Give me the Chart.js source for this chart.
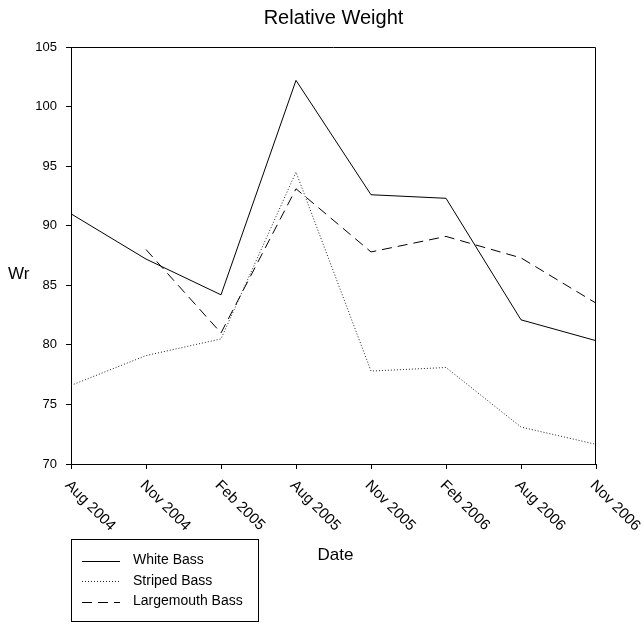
<!DOCTYPE html>
<html>
<head>
<meta charset="utf-8">
<script src="https://cdn.jsdelivr.net/npm/chart.js@4/dist/chart.umd.min.js"></script>
<style>
    html, body { margin:0; padding:0; background:#fff; }
    #chart { display:block; }
</style>
</head>
<body>
<canvas id="chart" width="643" height="624"></canvas>
<script>
// ── DATA ──
const dates = ['Aug 2004','Nov 2004','Feb 2005','Aug 2005','Nov 2005','Feb 2006','Aug 2006','Nov 2006'];
const whiteBass      = [91.0, 87.2, 84.2, 102.2, 92.6, 92.3, 82.1, 80.35];
const stripedBass    = [76.6, 79.1, 80.5, 94.5, 77.8, 78.1, 73.1, 71.65];
const largemouthBass = [null, 88.0, 81.0, 93.1, 87.8, 89.1, 87.3, 83.5];
const yMin = 70, yMax = 105, yStep = 5;

const FONT = 'Arial, "Liberation Sans", sans-serif';

// title, axis titles, slanted date labels, frame and legend box
const decorations = {
    id: 'decorations',
    afterDraw(chart) {
        const ctx = chart.ctx;
        const area = chart.chartArea;
        const xs = chart.scales.x;
        ctx.save();

        // top + right edges of the frame
        ctx.strokeStyle = '#000';
        ctx.lineWidth = 1;
        ctx.beginPath();
        ctx.moveTo(Math.round(area.left) + 0.5, Math.round(area.top) + 0.5);
        ctx.lineTo(Math.round(area.right) - 0.5, Math.round(area.top) + 0.5);
        ctx.lineTo(Math.round(area.right) - 0.5, Math.round(area.bottom));
        ctx.stroke();

        ctx.fillStyle = '#000';
        ctx.textAlign = 'center';
        ctx.textBaseline = 'middle';
        ctx.font = '20px ' + FONT;
        ctx.fillText('Relative Weight', (area.left + area.right) / 2, 18);

        ctx.font = '17px ' + FONT;
        ctx.fillText('Date', (area.left + area.right) / 2 + 2, 555);

        ctx.textAlign = 'left';
        ctx.fillText('Wr', 8, 274);

        // date labels at 45 degrees, hanging from each tick
        ctx.font = '15px ' + FONT;
        ctx.textBaseline = 'alphabetic';
        dates.forEach((d, i) => {
            const x = xs.getPixelForTick(i);
            ctx.save();
            ctx.translate(x - 6.5, area.bottom + 22);
            ctx.rotate(Math.PI / 4);
            ctx.fillText(d, 0, 0);
            ctx.restore();
        });

        // legend
        const box = { x: 71.5, y: 539.5, w: 187, h: 82 };
        ctx.strokeRect(box.x, box.y, box.w, box.h);
        ctx.font = '14px ' + FONT;
        ctx.textBaseline = 'middle';
        chart.data.datasets.forEach((ds, i) => {
            const y = 560.5 + i * 20.5;
            ctx.setLineDash(ds.borderDash || []);
            ctx.strokeStyle = ds.borderColor;
            ctx.beginPath();
            ctx.moveTo(82, Math.round(y) + 0.5);
            ctx.lineTo(120, Math.round(y) + 0.5);
            ctx.stroke();
            ctx.setLineDash([]);
            ctx.fillText(ds.label, 133, y);
        });
        ctx.restore();
    }
};

function fixWidth(w)  { return scale => { scale.width = w; }; }
function fixHeight(h) { return scale => { scale.height = h; }; }

const lineBase = { borderWidth:1, pointRadius:0, tension:0, fill:false, spanGaps:false };

new Chart(document.getElementById('chart'), {
    type: 'line',
    data: {
        labels: dates,
        datasets: [
            { ...lineBase, label:'White Bass',      data:whiteBass,      borderColor:'#000' },
            { ...lineBase, label:'Striped Bass',    data:stripedBass,    borderColor:'#222', borderDash:[1,2] },
            { ...lineBase, label:'Largemouth Bass', data:largemouthBass, borderColor:'#000', borderDash:[10,6] }
        ]
    },
    options: {
        responsive: false,
        animation: false,
        layout: { padding: { top:47, right:47, bottom:0, left:0 } },
        plugins: { legend:{ display:false }, title:{ display:false }, tooltip:{ enabled:false } },
        scales: {
            x: {
                offset: false,
                grid: { drawOnChartArea:false, drawTicks:true, tickLength:5, color:'#000' },
                border: { display:true, color:'#000', width:1 },
                ticks: { display:false },
                afterFit: fixHeight(160)
            },
            y: {
                min: yMin, max: yMax,
                grid: { drawOnChartArea:false, drawTicks:true, tickLength:5, color:'#000' },
                border: { display:true, color:'#000', width:1 },
                ticks: { stepSize:yStep, color:'#000', padding:9, font:{ family:FONT, size:13 } },
                afterFit: fixWidth(71)
            }
        }
    },
    plugins: [decorations]
});
</script>
</body>
</html>
